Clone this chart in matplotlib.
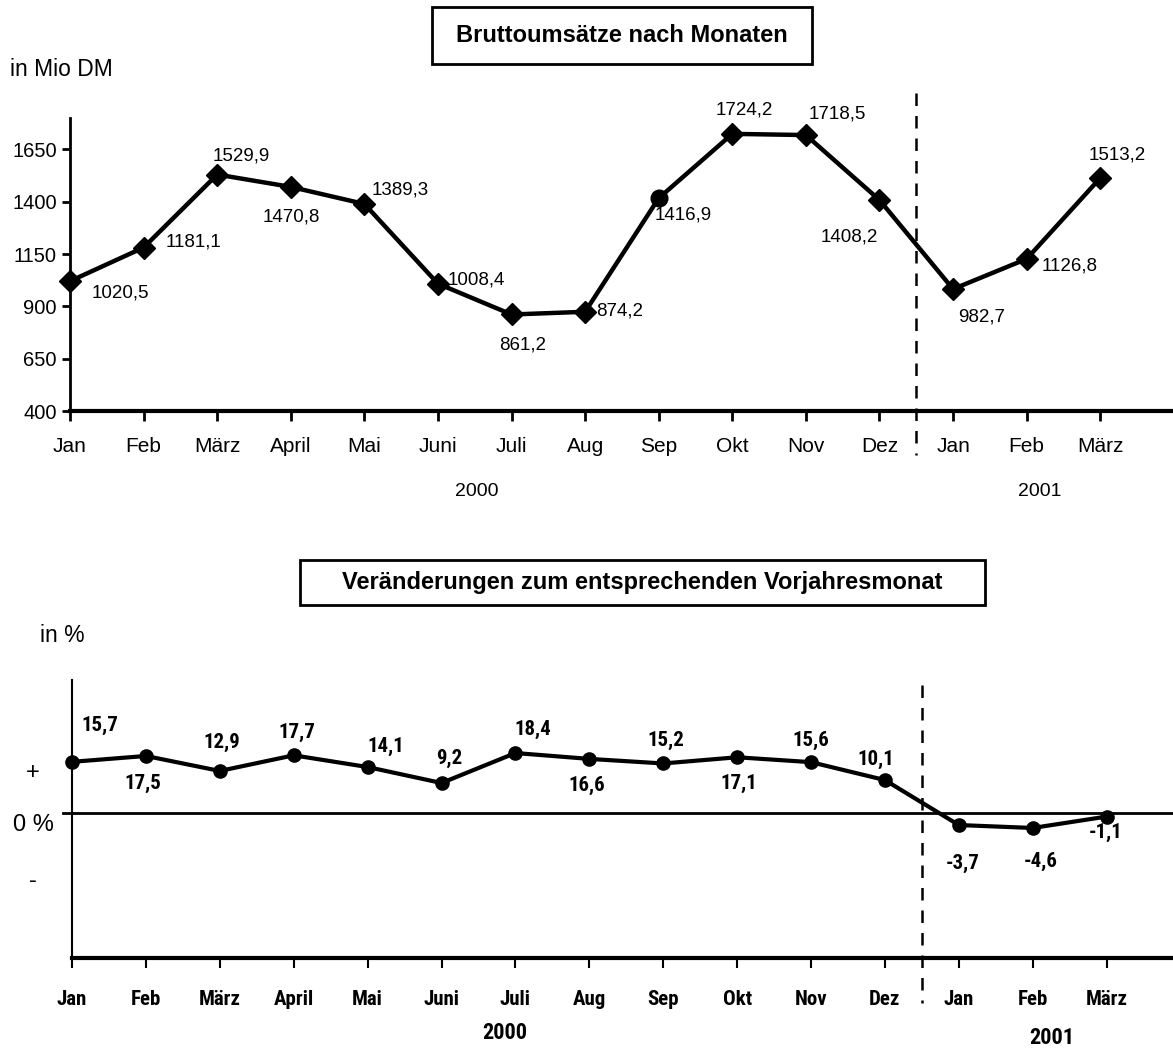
import numpy as np
import matplotlib
matplotlib.use('Agg')
import matplotlib.pyplot as plt
from matplotlib import font_manager as fm
from matplotlib.patches import Rectangle

plt.rcParams['font.family'] = ['Liberation Sans', 'DejaVu Sans']

months = ['Jan', 'Feb', 'März', 'April', 'Mai', 'Juni', 'Juli', 'Aug',
          'Sep', 'Okt', 'Nov', 'Dez', 'Jan', 'Feb', 'März']
umsatz = [1020.5, 1181.1, 1529.9, 1470.8, 1389.3, 1008.4, 861.2, 874.2,
          1416.9, 1724.2, 1718.5, 1408.2, 982.7, 1126.8, 1513.2]
veraenderung = [15.7, 17.5, 12.9, 17.7, 14.1, 9.2, 18.4, 16.6,
                15.2, 17.1, 15.6, 10.1, -3.7, -4.6, -1.1]

# label offsets in pixels (dx, dy)
off_top = [(50, -12), (50, 6), (24, 19), (1, -30), (36, 14), (38, 4),
           (11, -31), (34, 1), (24, -17), (12, 24), (31, 21), (-30, -37),
           (29, -28), (43, -7), (17, 23)]
off_bot = [(28, 36), (-3, -27), (2, 29), (3, 23), (18, 21), (8, 25),
           (17, 24), (-3, -27), (3, 23), (2, -26), (0, 22), (-9, 21),
           (4, -38), (8, -33), (-1, -16)]

# pick a condensed face if one is installed
have = set(f.name for f in fm.fontManager.ttflist)
narrow = 'Liberation Sans'
for cand in ['Liberation Sans Narrow', 'Arial Narrow', 'Roboto Condensed',
             'Archivo Narrow', 'PT Sans Narrow', 'Pragati Narrow',
             'Asap Condensed', 'Open Sans Condensed']:
    if cand in have:
        narrow = cand
        break
nsize = 12 if narrow == 'Liberation Sans' else 15

x = np.arange(len(months))
W, H = 1173, 1048

fig = plt.figure(figsize=(11.73, 10.48), dpi=100)

# ---------- top chart ----------
ax1 = fig.add_axes([0.0597, 0.6078, 0.941, 0.2796])
ax1.plot(x, umsatz, color='black', linewidth=3.2, zorder=2, clip_on=False)
mk = ['o' if m == 'Sep' else 'D' for m in months]
for xi, yi, m in zip(x, umsatz, mk):
    ax1.plot(xi, yi, marker=m, color='black',
             markersize=12 if m == 'o' else 11.5, zorder=3, clip_on=False)
for xi, yi, (dx, dy) in zip(x, umsatz, off_top):
    ax1.annotate(f'{yi:.1f}'.replace('.', ','), (xi, yi), xytext=(dx, dy),
                 textcoords='offset pixels', ha='center', va='center',
                 fontsize=13.5)
ax1.set_xlim(0, 15)
ax1.set_ylim(400, 1800)
ax1.set_yticks([400, 650, 900, 1150, 1400, 1650])
ax1.set_xticks(np.arange(16))
ax1.set_xticklabels(months + [''], fontsize=15)
ax1.tick_params(axis='y', labelsize=14.5, length=6, width=2)
ax1.tick_params(axis='x', length=7, width=2, pad=12)
for s in ['top', 'right']:
    ax1.spines[s].set_visible(False)
ax1.spines['left'].set_linewidth(2)
ax1.spines['bottom'].set_linewidth(3)
ax1.plot([11.5, 11.5], [1.085, -0.15], transform=ax1.get_xaxis_transform(),
         color='black', linestyle=(0, (5, 4)), linewidth=1.8, clip_on=False)

fig.patches.append(Rectangle((432 / W, 1 - 64 / H), 380 / W, 57 / H,
                             transform=fig.transFigure, facecolor='white',
                             edgecolor='black', linewidth=2))
fig.text(622 / W, 1 - 35.5 / H, 'Bruttoumsätze nach Monaten', ha='center',
         va='center', fontsize=17, fontweight='bold')
fig.text(10 / W, 1 - 70 / H, 'in Mio DM', ha='left', va='center',
         fontsize=16.5)
fig.text(477 / W, 1 - 492 / H, '2000', ha='center', va='center',
         fontsize=14)
fig.text(1040 / W, 1 - 492 / H, '2001', ha='center', va='center',
         fontsize=14)

# ---------- bottom chart ----------
ax2 = fig.add_axes([0.0614, 0.0859, 0.945, 0.2652])
ax2.axhline(0, color='black', linewidth=2, zorder=1)
ax2.plot([-0.12, 0], [0, 0], color='black', linewidth=2, clip_on=False)
ax2.plot(x, veraenderung, color='black', linewidth=3, marker='o',
         markersize=9.5, zorder=3, clip_on=False)
for xi, yi, (dx, dy) in zip(x, veraenderung, off_bot):
    ax2.annotate(f'{yi:.1f}'.replace('.', ','), (xi, yi), xytext=(dx, dy),
                 textcoords='offset pixels', ha='center', va='center',
                 fontsize=nsize, fontweight='bold', family=narrow)
ax2.set_xlim(0, 15)
ax2.set_ylim(-44.5, 40.8)
ax2.set_yticks([13, -3, -20])
ax2.set_yticklabels(['+', '0 %', '-'], fontsize=17, ha='center')
ax2.tick_params(axis='y', length=0, pad=28)
ax2.set_xticks(np.arange(16))
ax2.set_xticklabels(months + [''], fontsize=nsize, fontweight='bold',
                    family=narrow)
ax2.tick_params(axis='x', length=7, width=1.5, pad=16)
for s in ['top', 'right']:
    ax2.spines[s].set_visible(False)
ax2.spines['left'].set_linewidth(1.5)
ax2.spines['bottom'].set_linewidth(3)
ax2.plot([11.5, 11.5], [0.982, -0.162], transform=ax2.get_xaxis_transform(),
         color='black', linestyle=(0, (5, 4)), linewidth=1.8, clip_on=False)

fig.patches.append(Rectangle((300 / W, 1 - 605 / H), 685 / W, 45 / H,
                             transform=fig.transFigure, facecolor='white',
                             edgecolor='black', linewidth=2))
fig.text(642 / W, 1 - 582 / H,
         'Veränderungen zum entsprechenden Vorjahresmonat', ha='center',
         va='center', fontsize=17, fontweight='bold')
fig.text(40 / W, 1 - 636 / H, 'in %', ha='left', va='center',
         fontsize=16.5)
fig.text(505 / W, 1 - 1033 / H, '2000', ha='center', va='center',
         fontsize=nsize + 1, fontweight='bold', family=narrow)
fig.text(1052 / W, 1 - 1038 / H, '2001', ha='center', va='center',
         fontsize=nsize + 1, fontweight='bold', family=narrow)

fig.savefig('out.png', dpi=100)
